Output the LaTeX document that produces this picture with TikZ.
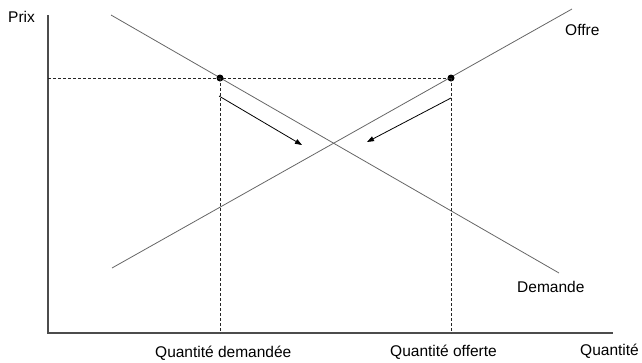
\documentclass[tikz,border=0pt]{standalone}
\usepackage{fontspec}
\setmainfont{Liberation Sans}
\usepackage{tikz}
\usetikzlibrary{arrows.meta}
\tikzstyle{axis} = [line width=1.3pt, draw=black!70]
\tikzstyle{curve} = [line width=0.8pt, draw=black!60]
\tikzstyle{guide} = [line width=0.8pt, dash pattern=on 3pt off 2pt, draw=black!85]
\tikzstyle{point} = [circle, fill=black, inner sep=0pt, minimum size=7pt]
\tikzstyle{arrow} = [line width=0.8pt, -{Triangle[length=7pt,width=5pt]}]
\tikzstyle{lbl} = [anchor=base west, inner sep=0pt, font=\fontsize{15.5}{18}\selectfont]

\begin{document}
\begin{tikzpicture}[x=1pt, y=-1pt]
\useasboundingbox (0,0) rectangle (642,362);
% axes
\coordinate (origin) at (48,333);
\coordinate (ytop) at (48,15);
\coordinate (xend) at (613,333);
\draw[axis] (ytop) -- (origin) -- (xend);
% demand and supply
\coordinate (dem1) at (111,15);
\coordinate (dem2) at (559,273);
\coordinate (off1) at (112,268);
\coordinate (off2) at (572,9);
\draw[curve] (dem1) -- (dem2);
\draw[curve] (off1) -- (off2);
% price level and quantities
\coordinate (pleft) at (48,78);
\coordinate (qdem) at (220,333);
\coordinate (qoff) at (451,333);
\node[point] (pdem) at (220,78) {};
\node[point] (poff) at (451,78) {};
\draw[guide] (pleft) -- (poff.center);
\draw[guide] (pdem.center) -- (qdem);
\draw[guide] (poff.center) -- (qoff);
% adjustment arrows
\coordinate (a1s) at (219,96);
\coordinate (a1e) at (302,145);
\coordinate (a2s) at (451,98);
\coordinate (a2e) at (367,142);
\draw[arrow] (a1s) -- (a1e);
\draw[arrow] (a2s) -- (a2e);
% labels
\node[lbl] (prix) at (8,22) {Prix};
\node[lbl] (offre) at (565,35) {Offre};
\node[lbl] (demande) at (517,292) {Demande};
\node[lbl] (quantdem) at (155,357) {Quantité demandée};
\node[lbl] (quantoff) at (390,356) {Quantité offerte};
\node[lbl] (quant) at (580,355) {Quantité};
\end{tikzpicture}
\end{document}
